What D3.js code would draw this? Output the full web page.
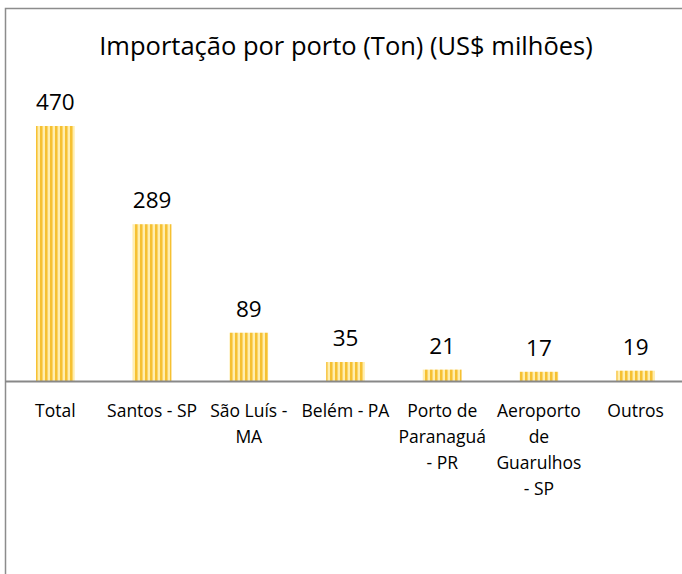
<!DOCTYPE html>
<html>
<head>
<meta charset="utf-8">
<script src="https://cdn.jsdelivr.net/npm/d3@7"></script>
<style>
  body { margin: 0; background: #fff; }
  svg text { font-family: "Open Sans", "Noto Sans", sans-serif; fill: #000; }
</style>
</head>
<body>
<div id="vis"></div>
<script>
// Importação por porto - bar chart
const categories = ["Total", "Santos - SP", "São Luís - MA", "Belém - PA", "Porto de Paranaguá - PR", "Aeroporto de Guarulhos - SP", "Outros"];
const categoryLines = [
  ["Total"],
  ["Santos - SP"],
  ["São Luís -", "MA"],
  ["Belém - PA"],
  ["Porto de", "Paranaguá", "- PR"],
  ["Aeroporto", "de", "Guarulhos", "- SP"],
  ["Outros"]
];
const values = [470, 289, 89, 35, 21, 17, 19];
const title = "Importação por porto (Ton) (US$ milhões)";

const width = 682;
const height = 574;
const baseline = 381;

const svg = d3.select("#vis")
  .append("svg")
  .attr("width", width)
  .attr("height", height);

// Stripe pattern
const defs = svg.append("defs");
const pat = defs.append("pattern")
  .attr("id", "stripes")
  .attr("patternUnits", "userSpaceOnUse")
  .attr("width", 5)
  .attr("height", 10);
pat.append("rect").attr("x", 0).attr("y", 0).attr("width", 5).attr("height", 10).attr("fill", "#ffeeae");
pat.append("rect").attr("x", 0).attr("y", 0).attr("width", 2).attr("height", 10).attr("fill", "#f6c132");
pat.append("rect").attr("x", 2).attr("y", 0).attr("width", 1).attr("height", 10).attr("fill", "#fad46a");

// Chart border (top and left only visible)
svg.append("path")
  .attr("d", `M5.5,${height} V8.5 H${width}`)
  .attr("fill", "none")
  .attr("stroke", "#8c8c8c")
  .attr("stroke-width", 1.5);

// Title
svg.append("text")
  .attr("x", 346)
  .attr("y", 55)
  .attr("text-anchor", "middle")
  .style("font-size", "25.5px")
  .text(title);

// Scales
const xScale = d3.scaleBand()
  .domain(categories)
  .range([7, 684])
  .paddingInner(0.6)
  .paddingOuter(0.3);

const yScale = d3.scaleLinear()
  .domain([0, 470])
  .range([baseline, 126]);

// Bars
svg.selectAll("rect.bar")
  .data(values)
  .enter()
  .append("rect")
  .attr("class", "bar")
  .attr("x", (d, i) => xScale(categories[i]))
  .attr("y", d => yScale(d))
  .attr("width", xScale.bandwidth())
  .attr("height", d => baseline - yScale(d))
  .attr("fill", "url(#stripes)");

// Value labels
svg.selectAll("text.value")
  .data(values)
  .enter()
  .append("text")
  .attr("class", "value")
  .attr("x", (d, i) => xScale(categories[i]) + xScale.bandwidth() / 2)
  .attr("y", d => yScale(d) - 16)
  .attr("text-anchor", "middle")
  .style("font-size", "22.5px")
  .text(d => d);

// Axis line
svg.append("line")
  .attr("x1", 5)
  .attr("x2", width)
  .attr("y1", baseline + 0.5)
  .attr("y2", baseline + 0.5)
  .attr("stroke", "#888")
  .attr("stroke-width", 2);

// Category labels
const cat = svg.selectAll("text.cat")
  .data(categoryLines)
  .enter()
  .append("text")
  .attr("class", "cat")
  .attr("text-anchor", "middle")
  .style("font-size", "17.5px");

cat.selectAll("tspan")
  .data((lines, i) => lines.map(l => ({ l, i })))
  .enter()
  .append("tspan")
  .attr("x", d => xScale(categories[d.i]) + xScale.bandwidth() / 2)
  .attr("y", (d, j) => 417 + j * 26)
  .text(d => d.l);
</script>
</body>
</html>
